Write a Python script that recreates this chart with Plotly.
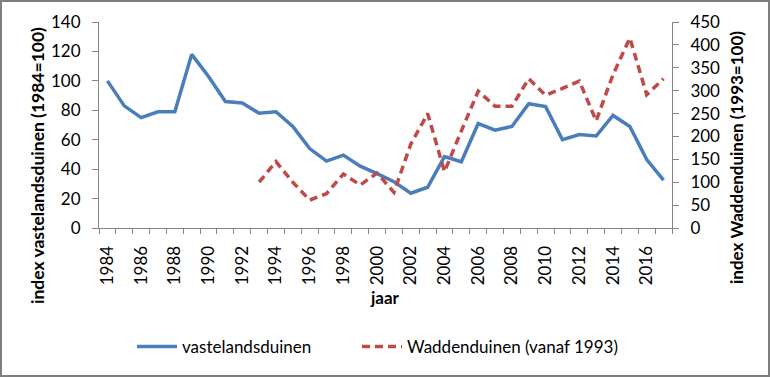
import plotly.graph_objects as go

years = list(range(1984, 2018))
vasteland = [100, 83, 75, 79, 79, 118, 103, 86, 85, 78, 79, 69, 54, 45.5, 49.5, 42,
             37, 31.5, 23.6, 27.7, 48.5, 45, 71, 66.5, 69, 84.5, 82.5, 60, 63.5, 62.5,
             76.5, 69, 46.5, 32.6]
wadden_years = list(range(1993, 2018))
wadden = [100, 145, 100, 61, 75, 118, 94, 120, 78, 183, 250, 123, 212, 299, 266, 266,
          326, 290, 305, 321, 234, 335, 415, 291, 326]
xtick_labels = [str(y) for y in range(1984, 2017, 2)]

W, H = 770, 377
L, R, T, B = 99, 98, 22, 149
PW, PH = W - L - R, H - T - B
FONT = "Lato, 'Open Sans', sans-serif"
AXC = "#868686"

def px(x):
    return (x - L) / PW

def py(y):
    return (H - B - y) / PH

fig = go.Figure()
fig.add_trace(go.Scatter(x=years, y=vasteland, mode="lines", name="vastelandsduinen",
                         line=dict(color="#4A7EBB", width=3.5), yaxis="y", legend="legend"))
fig.add_trace(go.Scatter(x=wadden_years, y=wadden, mode="lines", name="Waddenduinen (vanaf 1993)",
                         line=dict(color="#BE4B48", width=3.5, dash="8px,5px"), yaxis="y2",
                         legend="legend2"))

leg_common = dict(orientation="h", xanchor="left", y=py(347), yanchor="middle",
                  font=dict(size=17), itemwidth=40, bgcolor="rgba(0,0,0,0)")

fig.update_layout(
    width=W, height=H,
    margin=dict(l=L, r=R, t=T, b=B, pad=0),
    paper_bgcolor="white", plot_bgcolor="white",
    font=dict(family=FONT, size=17, color="#000000"),
    showlegend=True,
    legend=dict(x=px(132), **leg_common),
    legend2=dict(x=px(357), **leg_common),
    xaxis=dict(range=[1983.5, 2017.5], tickmode="array",
               tickvals=list(range(1984, 2017, 2)), ticktext=xtick_labels,
               tickangle=-90, ticks="", showline=True, linecolor=AXC, linewidth=1,
               showgrid=False, zeroline=False, ticklabelstandoff=10,
               minor=dict(tickmode="linear", tick0=1983.5, dtick=1, ticks="outside",
                          ticklen=5, tickcolor=AXC, showgrid=False)),
    yaxis=dict(range=[0, 140], dtick=20, ticks="outside", ticklen=6, tickcolor=AXC,
               showline=True, linecolor=AXC, linewidth=1, showgrid=False, zeroline=False,
               ticklabelstandoff=8),
    yaxis2=dict(range=[0, 450], dtick=50, overlaying="y", side="right", ticks="outside",
                ticklen=6, tickcolor=AXC, showline=True, linecolor=AXC, linewidth=1,
                showgrid=False, zeroline=False, ticklabelstandoff=8),
    annotations=[
        dict(text="<b>index vastelandsduinen (1984=100)</b>", xref="paper", yref="paper",
             x=px(37), y=py(166), textangle=-90, showarrow=False, font=dict(size=17.5),
             xanchor="center", yanchor="middle"),
        dict(text="<b>index Waddenduinen (1993=100)</b>", xref="paper", yref="paper",
             x=px(737), y=py(158), textangle=-90, showarrow=False, font=dict(size=17),
             xanchor="center", yanchor="middle"),
        dict(text="<b>jaar</b>", xref="paper", yref="paper", x=px(385), y=py(297),
             showarrow=False, font=dict(size=17), xanchor="center", yanchor="middle"),
    ],
    shapes=[dict(type="rect", xref="paper", yref="paper", x0=px(1), x1=px(769),
                 y0=py(376), y1=py(1), line=dict(color="#7F7F7F", width=2),
                 fillcolor="rgba(0,0,0,0)", layer="above")],
)

fig.write_html("out.html", config={"displayModeBar": False},
               post_script="document.body.style.margin='0';document.body.style.overflow='hidden';")
